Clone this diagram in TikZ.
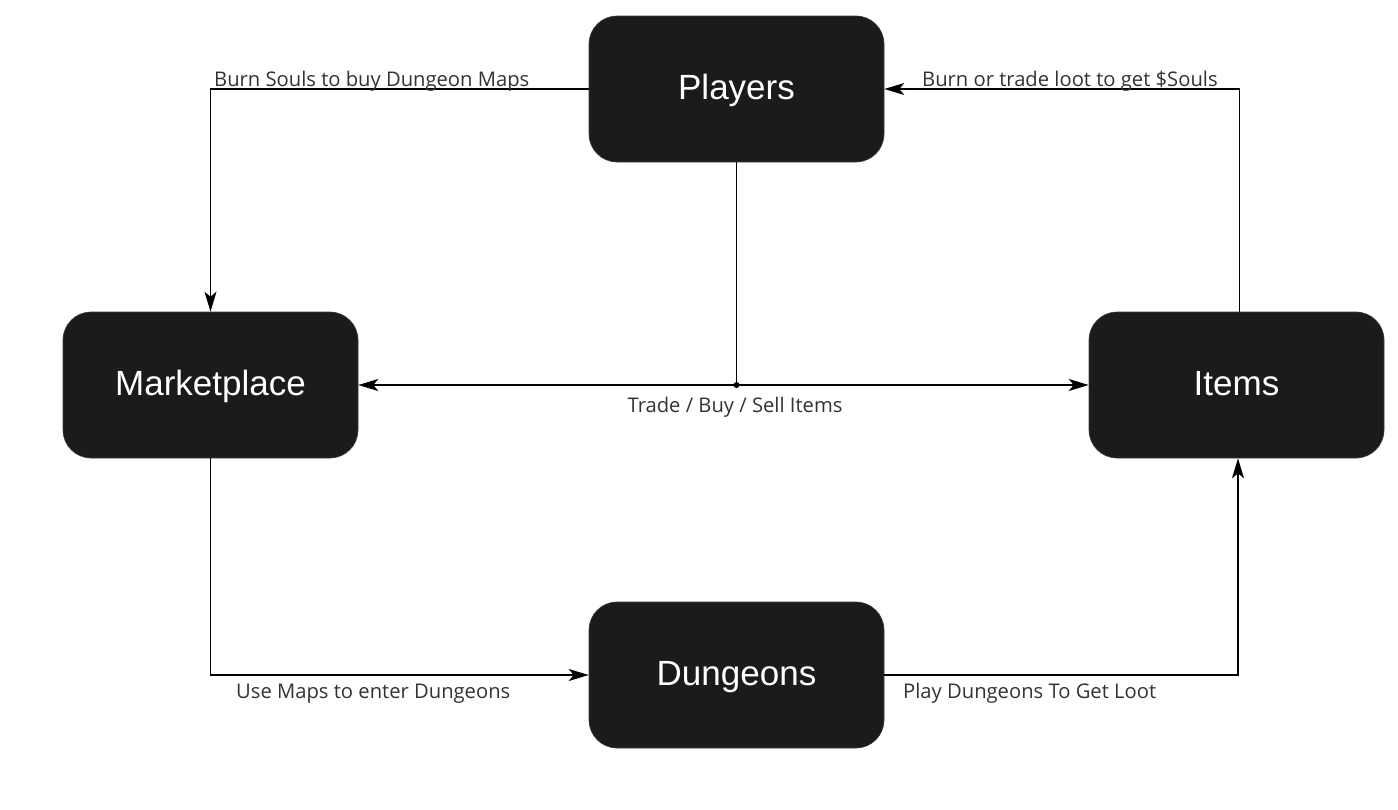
\documentclass[tikz,border=0pt]{standalone}
\usepackage{fontspec}
\setmainfont{Open Sans}
\newfontfamily\boxfont{Liberation Sans}
\usetikzlibrary{arrows.meta}
\definecolor{boxfill}{HTML}{1B1B1B}
\definecolor{labelgray}{HTML}{333333}
\tikzset{
  blk/.style={rectangle, rounded corners=28pt, fill=boxfill, draw=boxfill!85!white, line width=0.6pt,
    minimum width=295pt, minimum height=146pt, text=white, text height=25pt, text depth=5pt,
    font=\boxfont\fontsize{35}{40}\selectfont},
  conn/.style={line width=1.5pt, draw=black},
  arr/.style={conn, -{Stealth[length=20pt,width=12pt,inset=5pt]}},
  lbl/.style={text=labelgray, font=\fontsize{20.2}{24}\selectfont, inner sep=0pt}
}
\begin{document}
\begin{tikzpicture}[x=1pt,y=-1pt]
\useasboundingbox (0,0) rectangle (1398,809);
\fill[white] (0,0) rectangle (1398,809);
\node[blk] (pl) at (736.5,89) {Players};
\node[blk] (mk) at (210.5,385) {Marketplace};
\node[blk] (it) at (1236.5,385) {Items};
\node[blk] (dg) at (736.5,675) {Dungeons};
\coordinate (j) at (736.5,385);
\draw[arr] (pl.west) -| (mk.north);
\draw[arr] ([xshift=3pt]it.north) |- (pl.east);
\draw[conn] (pl.south) -- (j);
\draw[arr] (j) -- (mk.east);
\draw[arr] (j) -- (it.west);
\fill (j) circle (3pt);
\draw[arr] (mk.south) |- (dg.west);
\draw[arr] (dg.east) -| ([xshift=1.5pt]it.south);
\node[lbl, anchor=base west] (l1) at (214,86) {Burn Souls to buy Dungeon Maps};
\node[lbl, anchor=base west] (l2) at (922,86) {Burn or trade loot to get \$Souls};
\node[lbl, anchor=base] (l3) at (735,412) {Trade / Buy / Sell Items};
\node[lbl, anchor=base west] (l4) at (236,698) {Use Maps to enter Dungeons};
\node[lbl, anchor=base west] (l5) at (903,698) {Play Dungeons To Get Loot};
\end{tikzpicture}
\end{document}
